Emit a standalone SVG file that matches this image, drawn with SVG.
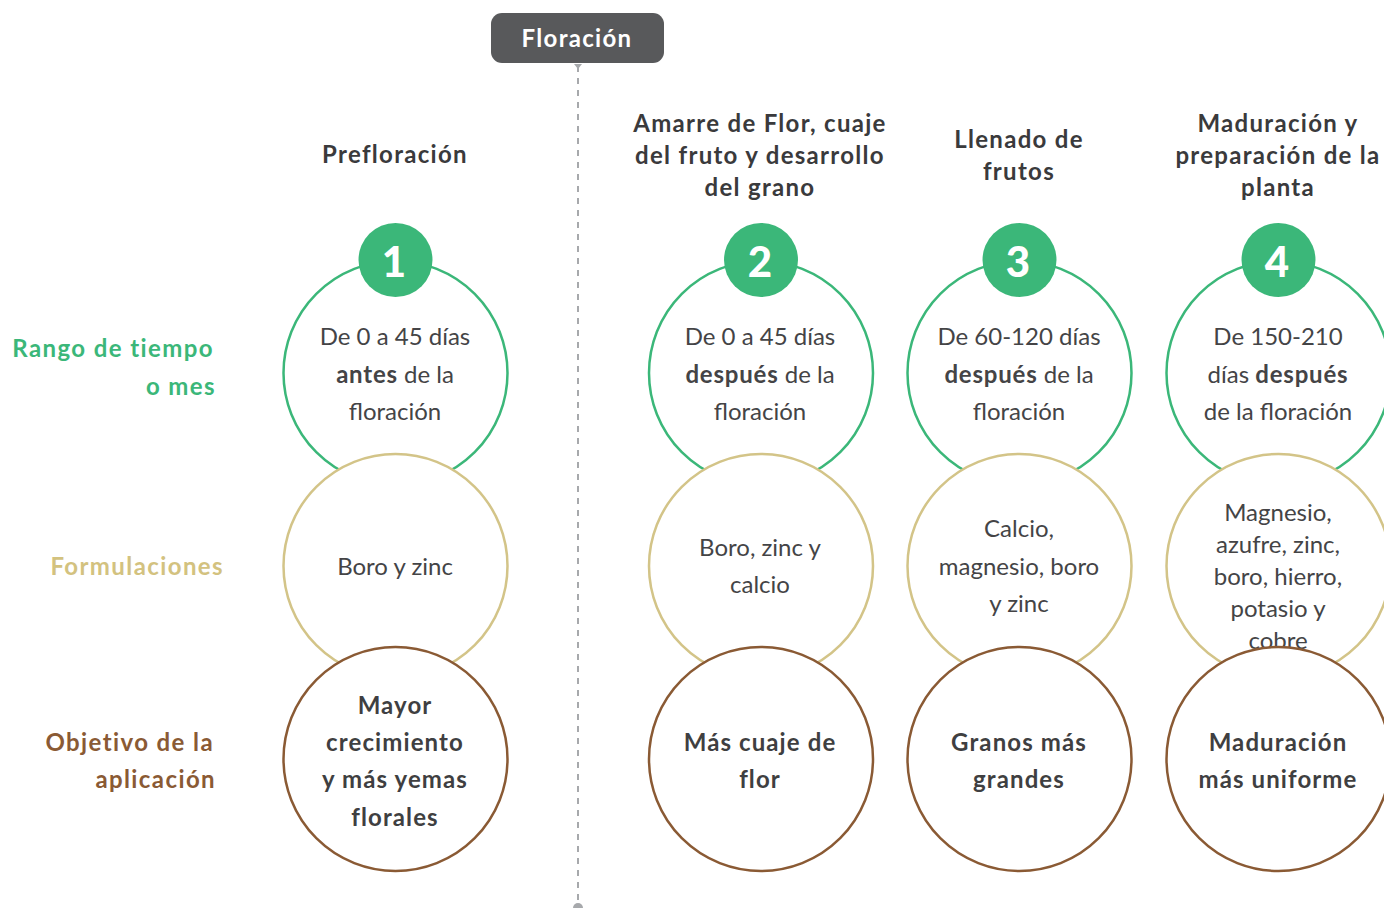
<svg xmlns="http://www.w3.org/2000/svg" width="1384" height="908" viewBox="0 0 1384 908">
<style>
text{font-family:Lato,"Source Sans Pro","Open Sans",sans-serif;text-anchor:middle}
.hd{font-size:24px;font-weight:700;fill:#3a3a3c;letter-spacing:1.3px}
.bd{font-size:24px;fill:#444446}
.b{font-weight:700;letter-spacing:0.8px}
.ob{font-size:24px;font-weight:700;fill:#3f3f41;letter-spacing:1.1px}
.num{font-size:42px;font-weight:900;fill:#fff}
.g{fill:#fff;stroke:#3bb779;stroke-width:2.5}
.y{fill:#fff;stroke:#d3c488;stroke-width:2.5}
.br{fill:#fff;stroke:#8a5a34;stroke-width:2.5}
.nc{fill:#3bb779}
.lab{font-size:24px;font-weight:700;text-anchor:end;letter-spacing:1.4px}
</style>
<g id="connectors">
<line x1="578" y1="66" x2="578" y2="904" stroke="#a7a9ac" stroke-width="2" stroke-dasharray="6,6"/>
<path d="M574 64 L578 69 L582 64 Z" fill="#a7a9ac"/>
<path d="M573 908 A5 5 0 0 1 583 908 Z" fill="#a7a9ac"/>
</g>
<g id="floracion">
<rect x="491" y="13" width="173" height="50" rx="11" fill="#58595b"/>
<text x="577" y="47" style="font-size:24px;font-weight:700;fill:#fff;letter-spacing:1.3px">Floración</text>
</g>
<g id="labels">
<text class="lab" x="214" y="357" fill="#3bb779">Rango de tiempo</text>
<text class="lab" x="216" y="395" fill="#3bb779">o mes</text>
<text class="lab" x="224" y="575" fill="#d3c27f">Formulaciones</text>
<text class="lab" x="214" y="751" fill="#8a5a34">Objetivo de la</text>
<text class="lab" x="216" y="788" fill="#8a5a34">aplicación</text>
</g>
<g id="col1">
<text class="hd" x="395" y="163">Prefloración</text>
<circle class="g" cx="395.5" cy="373" r="112"/>
<circle class="nc" cx="395.5" cy="260" r="37"/>
<text class="num" x="394" y="277">1</text>
<text class="bd" x="395" y="345">De 0 a 45 días</text>
<text class="bd" x="395" y="383"><tspan class="b">antes</tspan> de la</text>
<text class="bd" x="395" y="420">floración</text>
<circle class="y" cx="395.5" cy="566" r="112"/>
<text class="bd" x="395" y="575">Boro y zinc</text>
<circle class="br" cx="395.5" cy="759" r="112"/>
<text class="ob" x="395" y="714">Mayor</text>
<text class="ob" x="395" y="751">crecimiento</text>
<text class="ob" x="395" y="788">y más yemas</text>
<text class="ob" x="395" y="826">florales</text>
</g>
<g id="col2">
<text class="hd" x="760" y="132">Amarre de Flor, cuaje</text>
<text class="hd" x="760" y="164">del fruto y desarrollo</text>
<text class="hd" x="760" y="196">del grano</text>
<circle class="g" cx="761" cy="373" r="112"/>
<circle class="nc" cx="761" cy="260" r="37"/>
<text class="num" x="760" y="277">2</text>
<text class="bd" x="760" y="345">De 0 a 45 días</text>
<text class="bd" x="760" y="383"><tspan class="b">después</tspan> de la</text>
<text class="bd" x="760" y="420">floración</text>
<circle class="y" cx="761" cy="566" r="112"/>
<text class="bd" x="760" y="556">Boro, zinc y</text>
<text class="bd" x="760" y="593">calcio</text>
<circle class="br" cx="761" cy="759" r="112"/>
<text class="ob" x="760" y="751">Más cuaje de</text>
<text class="ob" x="760" y="788">flor</text>
</g>
<g id="col3">
<text class="hd" x="1019" y="148">Llenado de</text>
<text class="hd" x="1019" y="180">frutos</text>
<circle class="g" cx="1019.5" cy="373" r="112"/>
<circle class="nc" cx="1019.5" cy="260" r="37"/>
<text class="num" x="1018" y="277">3</text>
<text class="bd" x="1019" y="345">De 60-120 días</text>
<text class="bd" x="1019" y="383"><tspan class="b">después</tspan> de la</text>
<text class="bd" x="1019" y="420">floración</text>
<circle class="y" cx="1019.5" cy="566" r="112"/>
<text class="bd" x="1019" y="537">Calcio,</text>
<text class="bd" x="1019" y="575">magnesio, boro</text>
<text class="bd" x="1019" y="612">y zinc</text>
<circle class="br" cx="1019.5" cy="759" r="112"/>
<text class="ob" x="1019" y="751">Granos más</text>
<text class="ob" x="1019" y="788">grandes</text>
</g>
<g id="col4">
<text class="hd" x="1278" y="132">Maduración y</text>
<text class="hd" x="1278" y="164">preparación de la</text>
<text class="hd" x="1278" y="196">planta</text>
<circle class="g" cx="1278.5" cy="373" r="112"/>
<circle class="nc" cx="1278.5" cy="260" r="37"/>
<text class="num" x="1277" y="277">4</text>
<text class="bd" x="1278" y="345">De 150-210</text>
<text class="bd" x="1278" y="383">días <tspan class="b">después</tspan></text>
<text class="bd" x="1278" y="420">de la floración</text>
<circle class="y" cx="1278.5" cy="566" r="112"/>
<text class="bd" x="1278" y="521">Magnesio,</text>
<text class="bd" x="1278" y="553">azufre, zinc,</text>
<text class="bd" x="1278" y="585">boro, hierro,</text>
<text class="bd" x="1278" y="617">potasio y</text>
<text class="bd" x="1278" y="649">cobre</text>
<circle class="br" cx="1278.5" cy="759" r="112"/>
<text class="ob" x="1278" y="751">Maduración</text>
<text class="ob" x="1278" y="788">más uniforme</text>
</g>
</svg>
